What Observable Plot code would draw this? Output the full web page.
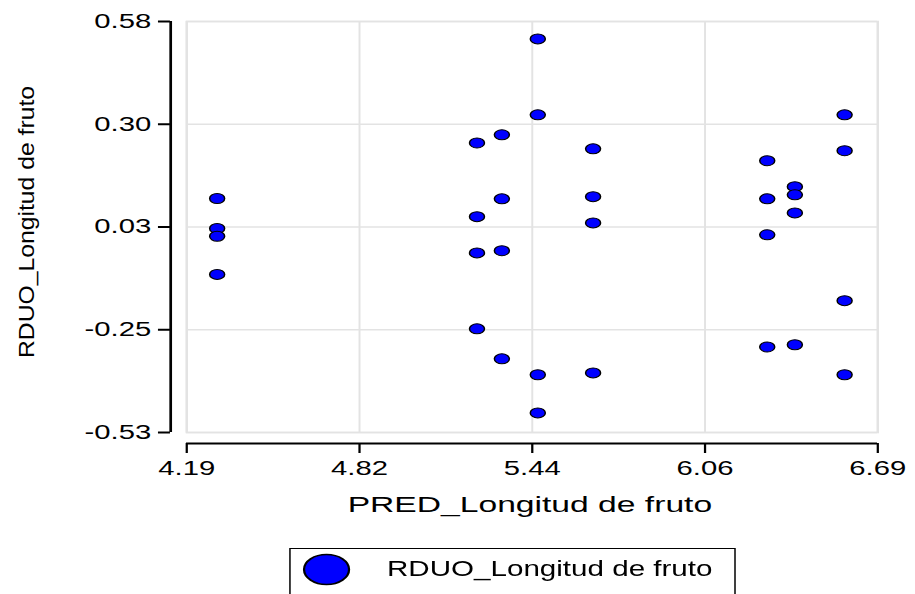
<!DOCTYPE html>
<html>
<head>
<meta charset="utf-8">
<script src="https://cdn.jsdelivr.net/npm/d3@7"></script>
<script src="https://cdn.jsdelivr.net/npm/@observablehq/plot@0.6"></script>
<style>
  html, body { margin: 0; padding: 0; background: #ffffff; }
  #wrap { width: 610px; transform: scaleX(1.5); transform-origin: 0 0; font-family: "Liberation Sans", Arial, sans-serif; }
  #wrap svg { display: block; }
</style>
</head>
<body>
<div id="wrap"></div>
<script>
// ---- data ----
const predLongitud = [
  4.30, 4.30, 4.30, 4.30,
  5.24, 5.24, 5.24, 5.24,
  5.33, 5.33, 5.33, 5.33,
  5.46, 5.46, 5.46, 5.46,
  5.66, 5.66, 5.66, 5.66,
  6.29, 6.29, 6.29, 6.29,
  6.39, 6.39, 6.39, 6.39,
  6.57, 6.57, 6.57, 6.57
];
const rduoLongitud = [
  0.102, 0.021, 0.000, -0.103,
  0.252, 0.053, -0.045, -0.250,
  0.274, 0.101, -0.039, -0.331,
  0.533, 0.328, -0.374, -0.477,
  0.236, 0.107, 0.036, -0.369,
  0.204, 0.101, 0.004, -0.299,
  0.134, 0.112, 0.063, -0.293,
  0.328, 0.231, -0.174, -0.374
];
const xTicks = [4.19, 4.815, 5.44, 6.065, 6.69];
const xTickLabels = ["4.19", "4.82", "5.44", "6.06", "6.69"];
const yTicks = [-0.53, -0.2525, 0.025, 0.3025, 0.58];
const yTickLabels = ["-0.53", "-0.25", "0.03", "0.30", "0.58"];
const xTitle = "PRED_Longitud de fruto";
const yTitle = "RDUO_Longitud de fruto";
const seriesName = "RDUO_Longitud de fruto";

const points = predLongitud.map((p, i) => ({pred: p, resid: rduoLongitud[i]}));
const xDomain = [xTicks[0], xTicks[xTicks.length - 1]];
const yDomain = [yTicks[0], yTicks[yTicks.length - 1]];

const gridColor = "#e3e3e3";

const plot = Plot.plot({
  width: 610,
  height: 540,
  marginTop: 21,
  marginBottom: 108,
  marginLeft: 124,
  marginRight: 25.3,
  style: {fontFamily: "'Liberation Sans', Arial, sans-serif", fontSize: "19.5px", background: "#ffffff", color: "#000", overflow: "visible"},
  x: {domain: xDomain},
  y: {domain: yDomain},
  marks: [
    Plot.gridX(xTicks, {stroke: gridColor, strokeOpacity: 1, strokeWidth: 1.3}),
    Plot.gridY(yTicks, {stroke: gridColor, strokeOpacity: 1, strokeWidth: 1.6}),
    Plot.frame({stroke: gridColor, strokeWidth: 1.6}),
    Plot.ruleX([xDomain[0]], {dx: -10.7, stroke: "#000", strokeWidth: 1.8}),
    Plot.ruleY([yDomain[0]], {dy: 11, stroke: "#000", strokeWidth: 2}),
    Plot.axisY(yTicks, {tickFormat: d => yTickLabels[yTicks.indexOf(d)], tickSize: 8, tickPadding: 5, dx: -10.7, strokeWidth: 2, fontSize: 19.5, label: null}),
    Plot.axisX(xTicks, {tickFormat: d => xTickLabels[xTicks.indexOf(d)], tickSize: 10, tickPadding: 8, dy: 11, strokeWidth: 1.5, fontSize: 19.5, label: null}),
    Plot.dot(points, {x: "pred", y: "resid", r: 5, fill: "#0000ff", stroke: "#000", strokeWidth: 1}),
    Plot.text([yTitle], {frameAnchor: "left", dx: -102, dy: -5, rotate: -90, textAnchor: "middle", lineAnchor: "bottom", fontSize: 15, fill: "#000"}),
    Plot.text([xTitle], {frameAnchor: "bottom", dx: -1.6, dy: 79, textAnchor: "middle", lineAnchor: "bottom", fontSize: 22, fill: "#000"})
  ]
});

// stretch the titles to the reference's length
function stretchText(content, len) {
  plot.querySelectorAll("text").forEach(t => {
    if (t.textContent === content) {
      t.setAttribute("textLength", len);
      t.setAttribute("lengthAdjust", "spacingAndGlyphs");
    }
  });
}
stretchText(yTitle, 272);
stretchText(xTitle, 243);

const wrap = document.getElementById("wrap");
wrap.appendChild(plot);

// legend below the chart
const ns = "http://www.w3.org/2000/svg";
const leg = document.createElementNS(ns, "svg");
leg.setAttribute("width", 610);
leg.setAttribute("height", 54);
leg.style.overflow = "visible";
const box = document.createElementNS(ns, "rect");
box.setAttribute("x", 193.3); box.setAttribute("y", 8.5);
box.setAttribute("width", 296.7); box.setAttribute("height", 50);
box.setAttribute("fill", "none"); box.setAttribute("stroke", "#000"); box.setAttribute("stroke-width", 1);
leg.appendChild(box);
const sw = document.createElementNS(ns, "circle");
sw.setAttribute("cx", 217.7); sw.setAttribute("cy", 29.5); sw.setAttribute("r", 15);
sw.setAttribute("fill", "#0000ff"); sw.setAttribute("stroke", "#000"); sw.setAttribute("stroke-width", 1.5);
leg.appendChild(sw);
const lt = document.createElementNS(ns, "text");
lt.setAttribute("x", 258); lt.setAttribute("y", 36);
lt.setAttribute("font-size", 22);
lt.setAttribute("font-family", "'Liberation Sans', Arial, sans-serif");
lt.setAttribute("textLength", 217); lt.setAttribute("lengthAdjust", "spacingAndGlyphs");
lt.textContent = seriesName;
leg.appendChild(lt);
wrap.appendChild(leg);
</script>
</body>
</html>
